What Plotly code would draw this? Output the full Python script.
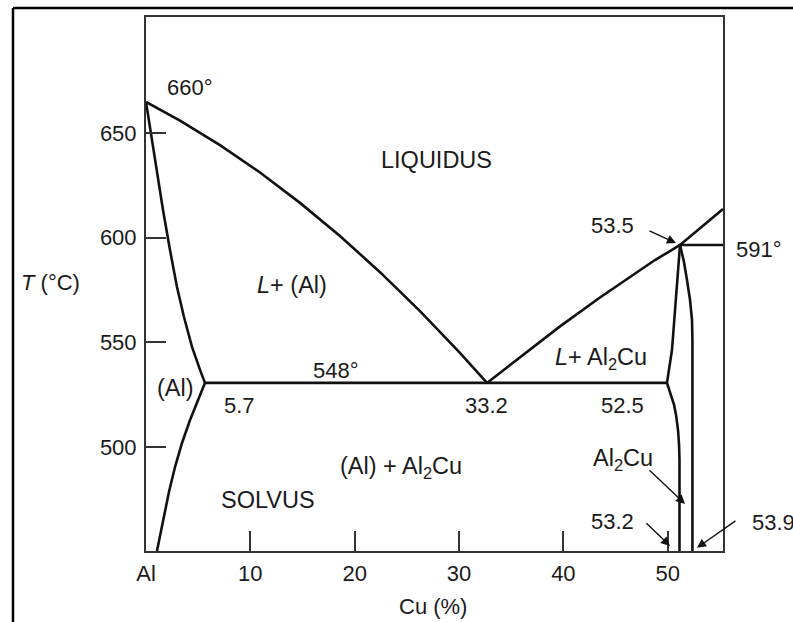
import plotly.graph_objects as go

# ---------------- data ----------------
x_tickvals = [0, 10, 20, 30, 40, 50]
x_ticktext = ["Al", "10", "20", "30", "40", "50"]
y_tickvals = [500, 550, 600, 650]
y_ticktext = ["500", "550", "600", "650"]

liq_left_x = [0.0, 3.26, 7.09, 10.93, 14.76, 18.59, 22.43, 26.26, 30.09, 32.68]
liq_left_T = [664.8, 655.9, 644.2, 631.1, 616.6, 600.8, 583.5, 564.9, 544.9, 530.6]

liq_right_x = [32.68, 35.84, 39.68, 43.51, 46.39, 48.78, 50.22, 51.18, 55.3]
liq_right_T = [530.6, 542.6, 557.6, 571.4, 581.2, 589.3, 593.6, 596.5, 613.7]

solidus_x = [0.0, 0.86, 1.63, 2.30, 2.97, 3.64, 4.41, 5.18, 5.65]
solidus_T = [664.8, 637.1, 613.2, 594.1, 576.4, 562.1, 547.8, 536.8, 530.6]

solvus_x = [5.65, 4.98, 4.22, 3.45, 2.78, 2.20, 1.73, 1.34, 1.05]
solvus_T = [530.6, 522.4, 512.9, 501.9, 490.4, 478.5, 466.55, 457.0, 450.3]

eutectic_x = [5.65, 49.93]
eutectic_T = [530.6, 530.6]

line591_x = [51.18, 55.3]
line591_T = [596.5, 596.5]

theta_upper_x = [51.18, 50.41, 49.93]
theta_upper_T = [596.5, 546.3, 530.6]

theta_lower_x = [49.93, 50.32, 50.61, 50.80, 50.99, 51.09, 51.13, 51.13]
theta_lower_T = [530.6, 524.8, 520.1, 515.3, 508.1, 500.9, 493.8, 450.3]

theta_right_x = [51.18, 51.56, 51.85, 52.14, 52.33, 52.37, 52.37]
theta_right_T = [596.5, 588.4, 579.8, 570.2, 560.6, 551.1, 450.3]

X_RANGE = [0, 55.3]
Y_RANGE = [450.3, 705.4]

FONT = "Liberation Sans, Arial, Helvetica, sans-serif"
TXT = "#1a1a1a"
FS = 22      # numbers
FS_W = 23.5  # word labels

fig = go.Figure()

def curve(xs, ys):
    fig.add_trace(go.Scatter(
        x=xs, y=ys, mode="lines",
        line=dict(color="#111111", width=2.6, shape="linear"),
        hoverinfo="skip", showlegend=False, cliponaxis=False))

curve(liq_left_x, liq_left_T)
curve(liq_right_x, liq_right_T)
curve(solidus_x, solidus_T)
curve(solvus_x, solvus_T)
curve(eutectic_x, eutectic_T)
curve(line591_x, line591_T)
curve(theta_upper_x, theta_upper_T)
curve(theta_lower_x, theta_lower_T)
curve(theta_right_x, theta_right_T)

# ---------------- labels (data coords) ----------------
labels = [
    ("660°", 4.22, 671.5, FS),
    ("LIQUIDUS", 27.8, 637.1, FS_W),
    ("<i>L</i>+ (Al)", 14.0, 577.4, FS_W),
    ("548°", 18.2, 536.3, FS),
    ("(Al)", 2.78, 528.2, FS_W),
    ("5.7", 9.0, 519.6, FS),
    ("33.2", 32.6, 519.6, FS),
    ("52.5", 45.7, 519.6, FS),
    ("<i>L</i>+ Al<sub>2</sub>Cu", 43.6, 542.5, FS_W),
    ("(Al) + Al<sub>2</sub>Cu", 24.4, 490.0, FS_W),
    ("SOLVUS", 11.7, 474.7, FS_W),
    ("Al<sub>2</sub>Cu", 45.7, 493.8, FS_W),
    ("53.2", 44.7, 464.2, FS),
    ("53.5", 44.7, 605.6, FS),
]
for t, x, y, s in labels:
    fig.add_annotation(x=x, y=y, xref="x", yref="y", text=t, showarrow=False,
                       font=dict(family=FONT, size=s, color=TXT),
                       xanchor="center", yanchor="middle")

# labels that sit outside the plotting area (paper coords)
outside_labels = [
    ("53.9", 1.088, 0.0543, FS),
    ("591°", 1.0624, 0.5637, FS),
    ("<i>T</i> (°C)", -0.166, 0.502, FS),
    ("Cu (%)", 0.497, -0.103, FS),
]
for t, x, y, s in outside_labels:
    fig.add_annotation(x=x, y=y, xref="paper", yref="paper", text=t,
                       showarrow=False, xanchor="center", yanchor="middle",
                       font=dict(family=FONT, size=s, color=TXT))

# arrows: (tail x, tail T, head x, head T)
arrows = [
    (48.11, 603.6, 50.8, 597.4),
    (48.11, 489.5, 51.66, 472.8),
    (47.82, 464.2, 50.22, 452.7),
    (56.64, 465.2, 52.8, 451.8),
]
for tx, ty, hx, hy in arrows:
    fig.add_annotation(x=hx, y=hy, ax=tx, ay=ty, xref="x", yref="y",
                       axref="x", ayref="y", text="", showarrow=True,
                       arrowhead=2, arrowsize=1.3, arrowwidth=1.4,
                       arrowcolor="#111111")

# outer frame (top and left edges visible)
fig.add_shape(type="line", xref="paper", yref="paper",
              x0=-0.2305, x1=1.25, y0=1.0169, y1=1.0169,
              line=dict(color="black", width=2.5))
fig.add_shape(type="line", xref="paper", yref="paper",
              x0=-0.2305, x1=-0.2305, y0=1.0169, y1=-0.25,
              line=dict(color="black", width=2.5))

axis_common = dict(showgrid=False, zeroline=False, showline=True,
                   linecolor="#333333", linewidth=2, mirror=True,
                   ticks="inside", ticklen=20, tickwidth=2,
                   tickcolor="#333333",
                   tickfont=dict(family=FONT, size=FS, color=TXT))

fig.update_xaxes(range=X_RANGE, tickvals=x_tickvals, ticktext=x_ticktext,
                 ticklabelstandoff=2, **axis_common)
fig.update_yaxes(range=Y_RANGE, tickvals=y_tickvals, ticktext=y_ticktext,
                 ticklabelstandoff=3, **axis_common)

fig.update_layout(width=793, height=622,
                  margin=dict(l=146, r=70, t=17, b=71),
                  paper_bgcolor="white", plot_bgcolor="white",
                  showlegend=False)

fig.write_html("out.html")
